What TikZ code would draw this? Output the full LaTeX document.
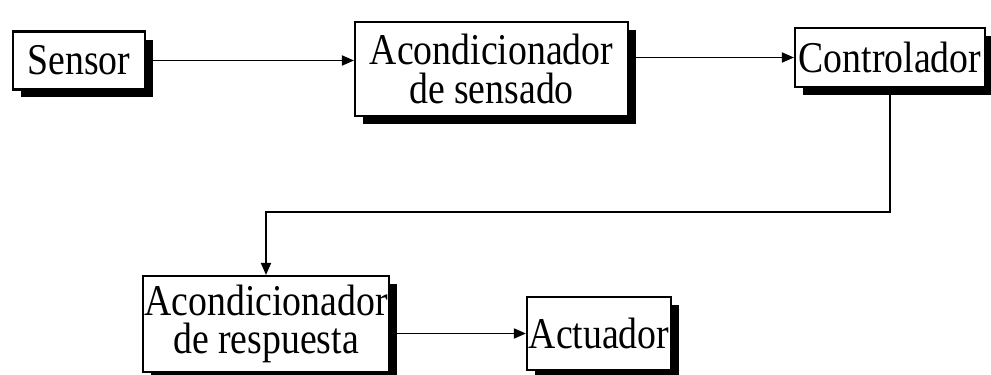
\documentclass[tikz,border=0pt]{standalone}
\usepackage{fontspec}
\setmainfont[FakeStretch=0.86]{Liberation Serif}
\usetikzlibrary{arrows.meta, positioning, shadows}

\begin{document}
\begin{tikzpicture}[
    x=0.02cm, y=-0.02cm,
    block/.style={rectangle, draw, line width=1.2pt, fill=white, align=center, inner sep=1pt,
        font=\fontsize{25pt}{22pt}\selectfont,
        drop shadow={shadow xshift=0.16cm, shadow yshift=-0.16cm, fill=black, opacity=1}},
    arrow/.style={-{Triangle[length=0.24cm, width=0.2cm]}, line width=1pt},
]
    \useasboundingbox (0,0) rectangle (991,375);
    % upper row
    \node[block, minimum width=2.64cm, minimum height=1.16cm] (sensor) at (79,60.5) {Sensor};
    \node[block, minimum width=5.46cm, minimum height=1.88cm] (acsens) at (491.5,69) {Acondicionador\\de sensado};
    \node[block, minimum width=3.8cm, minimum height=1.18cm] (ctrl) at (890,57.5) {Controlador};
    % lower row
    \node[block, minimum width=4.24cm, minimum height=1.92cm] (acresp) at (266,324) {Acondicionador\\de respuesta};
    \node[block, minimum width=2.64cm, minimum height=1.46cm] (actuador) at (599,333.5) {Actuador};
    \coordinate (bend) at (0,212);

    \draw[arrow] (sensor) -- (sensor -| acsens.west);
    \draw[arrow] (acsens.east |- ctrl) -- (ctrl.west);
    \draw[arrow] (ctrl.south) -- (ctrl.south |- bend) -| (acresp.north);
    \draw[arrow] (acresp.east |- actuador) -- (actuador.west);
\end{tikzpicture}
\end{document}
